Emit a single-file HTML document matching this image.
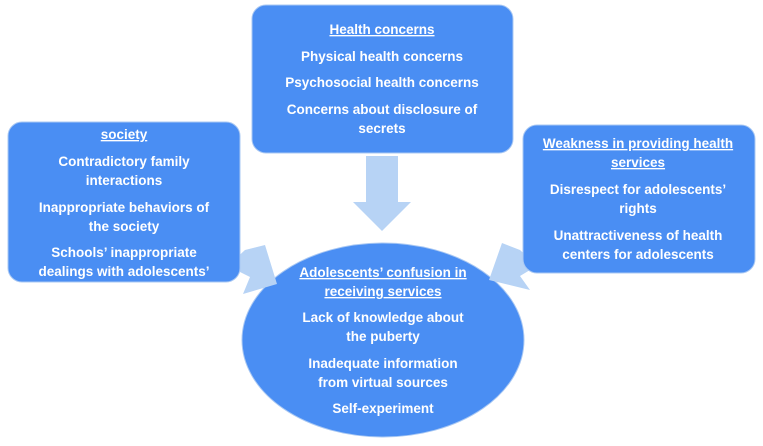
<!DOCTYPE html>
<html><head><style>body{margin:0;background:#fff}svg{display:block}text{font-family:"Liberation Sans",sans-serif;font-weight:bold;font-size:13.5px;fill:#fff;text-anchor:middle}</style></head>
<body>
<svg width="763" height="446" viewBox="0 0 763 446">
<g fill="#4a8ef3" stroke="#a9c8f3" stroke-width="1">
<ellipse cx="383" cy="340" rx="141" ry="97"/>
</g>
<g fill="#b7d3f5">
<polygon points="366,156 398,156 398,202 411,202 382,231 353,202 366,202"/>
<polygon points="232,262 245,250 265,245 277,284 243,294 250,277 240,272"/>
<polygon points="533,262 520,250 502,243 489,280 530,290 520,276 530,270"/>
</g>
<g fill="#4a8ef3" stroke="#a9c8f3" stroke-width="1">
<rect x="252" y="5" width="261" height="148" rx="14"/>
<rect x="8" y="122" width="232" height="160" rx="14"/>
<rect x="523" y="125" width="232" height="148" rx="14"/>
</g>
<text x="382" y="34" text-decoration="underline">Health concerns</text>
<text x="382" y="61">Physical health concerns</text>
<text x="382" y="87">Psychosocial health concerns</text>
<text x="382" y="114">Concerns about disclosure of</text>
<text x="382" y="133">secrets</text>
<text x="124" y="139" text-decoration="underline">society</text>
<text x="124" y="166">Contradictory family</text>
<text x="124" y="185">interactions</text>
<text x="124" y="212">Inappropriate behaviors of</text>
<text x="124" y="231">the society</text>
<text x="124" y="257">Schools’ inappropriate</text>
<text x="124" y="276">dealings with adolescents’</text>
<text x="638" y="148" text-decoration="underline">Weakness in providing health</text>
<text x="638" y="167" text-decoration="underline">services</text>
<text x="638" y="194">Disrespect for adolescents’</text>
<text x="638" y="213">rights</text>
<text x="638" y="240">Unattractiveness of health</text>
<text x="638" y="259">centers for adolescents</text>
<text x="383" y="277" text-decoration="underline">Adolescents’ confusion in</text>
<text x="383" y="296" text-decoration="underline">receiving services</text>
<text x="383" y="322">Lack of knowledge about</text>
<text x="383" y="341">the puberty</text>
<text x="383" y="368">Inadequate information</text>
<text x="383" y="387">from virtual sources</text>
<text x="383" y="413">Self-experiment</text>
</svg>
</body></html>
